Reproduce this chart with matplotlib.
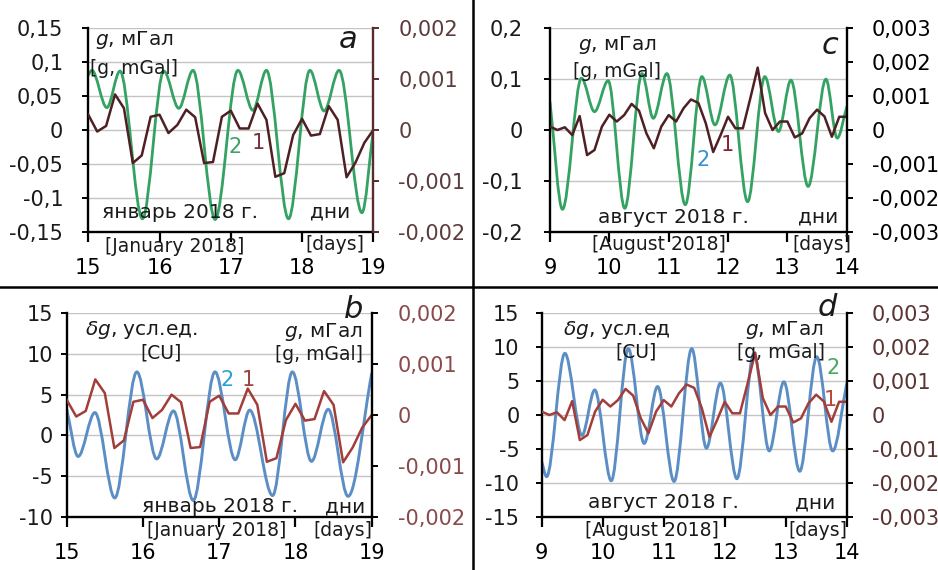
import numpy as np
import matplotlib.pyplot as plt
from matplotlib.path import Path
from matplotlib.patches import PathPatch
from matplotlib.lines import Line2D

W, H = 938, 570

# observed g (series 1), 3-hourly, right axis, mGal
brown_jan = [0.0003, -0.00003, 0.00008, 0.0007, 0.00043, -0.00065, -0.0005, 0.00026,
             0.0003, -0.00006, 0.0001, 0.0004, 0.00025, -0.00065, -0.00063, 0.00026,
             0.00038, 0.00003, 0.00003, 0.00052, 0.0002, -0.00092, -0.00085, -0.0001,
             0.00022, -0.00011, -0.00008, 0.00047, 0.0002, -0.00093, -0.00064, -0.00025, 0.0]
brown_aug = [0.0001, 0.0, 0.00008, -0.00015, 0.00041, -0.00074, -0.00059, 0.0001,
             0.00045, 0.00025, 0.00044, 0.00077, 0.00057, -0.0001, -0.00054, 0.0001,
             0.00044, 0.00025, 0.00064, 0.0009, 0.0008, 0.0002, -0.00065, -0.00015,
             0.00039, 0.00005, 0.00005, 0.00093, 0.00184, 0.0005, 0.0, 0.00025,
             0.00025, -0.00022, -0.0001, 0.00035, 0.0006, 0.0004, -0.0002, 0.00039, 0.00039]

# tide model g (series 2), turning points, left axis, mGal
green_jan_t = [15.0, 15.05, 15.26, 15.445, 15.76, 16.06, 16.27, 16.47, 16.78, 17.1,
               17.31, 17.5, 17.81, 18.11, 18.31, 18.52, 18.84, 19.0]
green_jan_v = [0.081, 0.088, 0.033, 0.087, -0.131, 0.087, 0.032, 0.088, -0.132, 0.088,
               0.029, 0.088, -0.131, 0.088, 0.028, 0.088, -0.122, 0.0]
green_aug_t = [9.0, 9.21, 9.53, 9.75, 9.98, 10.26, 10.55, 10.74, 10.97, 11.28, 11.56,
               11.78, 12.03, 12.33, 12.62, 12.85, 13.06, 13.35, 13.65, 13.84, 14.0]
green_aug_v = [0.055, -0.156, 0.102, 0.036, 0.097, -0.154, 0.111, 0.023, 0.111, -0.147, 0.105,
               0.01, 0.108, -0.141, 0.105, -0.003, 0.098, -0.111, 0.1, -0.016, 0.045]

# delta g (series 2), conventional units
blue_jan_t = [15.0, 15.15, 15.37, 15.63, 15.92, 16.18, 16.40, 16.66, 16.945, 17.21,
              17.40, 17.70, 17.96, 18.21, 18.43, 18.69, 19.0]
blue_jan_v = [3.2, -2.6, 2.8, -7.7, 7.8, -2.9, 3.0, -8.0, 7.8, -3.0,
              3.1, -7.4, 7.8, -3.2, 3.2, -7.5, 7.6]
blue_aug_t = [9.0, 9.08, 9.38, 9.66, 9.87, 10.14, 10.42, 10.68, 10.90, 11.17, 11.46,
              11.70, 11.93, 12.20, 12.48, 12.73, 12.97, 13.23, 13.51, 13.77, 14.0]
blue_aug_v = [-6.9, -9.1, 9.1, -3.0, 3.7, -9.7, 9.8, -4.2, 4.2, -9.8, 9.8,
              -4.9, 4.7, -9.4, 9.1, -5.3, 4.9, -8.3, 8.6, -5.3, 4.6]

GREEN = '#34a262'
BLUE = '#5b8ec4'
MAROON = '#4e2024'
BRICK = '#a23e3a'


def smooth_line(ax, t, v, color, lw):
    # Excel-like smoothed line: monotone cubic drawn as bezier path
    t = np.asarray(t, float)
    v = np.asarray(v, float)
    h = np.diff(t)
    d = np.diff(v) / h
    m = np.empty_like(v)
    m[0], m[-1] = d[0], d[-1]
    for i in range(1, len(v) - 1):
        if d[i - 1] * d[i] <= 0:
            m[i] = 0.0
        else:
            w1 = 2 * h[i] + h[i - 1]
            w2 = h[i] + 2 * h[i - 1]
            m[i] = (w1 + w2) / (w1 / d[i - 1] + w2 / d[i])
    verts = [(t[0], v[0])]
    codes = [Path.MOVETO]
    for i in range(len(h)):
        verts += [(t[i] + h[i] / 3, v[i] + m[i] * h[i] / 3),
                  (t[i + 1] - h[i] / 3, v[i + 1] - m[i + 1] * h[i] / 3),
                  (t[i + 1], v[i + 1])]
        codes += [Path.CURVE4] * 3
    ax.add_patch(PathPatch(Path(verts, codes), fill=False, edgecolor=color, lw=lw,
                           capstyle='round', joinstyle='round'))


def rect(l, t, r, b):
    return [l / W, 1 - b / H, (r - l) / W, (b - t) / H]


def txt(x, y, s, size=14, ha='left', **kw):
    fig.text(x / W, 1 - y / H, s, fontsize=size, ha=ha, va='center', color=kw.pop('color', '#1a1a1a'), **kw)


def panel(box, xlim, lt, ll, rt, rl, lpad, rpad, rspine='black', rlab='black'):
    ax = fig.add_axes(box)
    ax2 = ax.twinx()
    ax.set_xlim(*xlim)
    ax.set_xticks(range(xlim[0], xlim[1] + 1))
    ax.set_ylim(lt[0], lt[-1])
    ax.set_yticks(lt, labels=ll)
    ax2.set_ylim(rt[0], rt[-1])
    ax2.set_yticks(rt, labels=rl)
    ax.yaxis.grid(True, color='#c4c4c4', lw=1.0)
    ax.set_axisbelow(True)
    for s in ['top', 'right']:
        ax.spines[s].set_visible(False)
    for s in ['top', 'left', 'bottom']:
        ax2.spines[s].set_visible(False)
    ax.spines['left'].set_linewidth(1.7)
    ax.spines['bottom'].set_linewidth(1.7)
    ax2.spines['right'].set_linewidth(1.7)
    ax2.spines['right'].set_color(rspine)
    ax.tick_params(axis='x', direction='out', length=7, width=1.6, pad=12, labelsize=15)
    ax.tick_params(axis='y', direction='out', length=4, width=1.4, pad=lpad, labelsize=15,
                   labelcolor='#1a1a1a')
    ax2.tick_params(axis='y', direction='out', length=4, width=1.4, pad=rpad, labelsize=15,
                    labelcolor=rlab, color=rspine)
    return ax, ax2


fig = plt.figure(figsize=(W / 100, H / 100), dpi=100)

g_ticks = [-0.15, -0.1, -0.05, 0, 0.05, 0.1, 0.15]
g_labels = ['-0,15', '-0,1', '-0,05', '0', '0,05', '0,1', '0,15']
g2_ticks = [-0.2, -0.1, 0, 0.1, 0.2]
g2_labels = ['-0,2', '-0,1', '0', '0,1', '0,2']
r2_ticks = [-0.002, -0.001, 0, 0.001, 0.002]
r2_labels = ['-0,002', '-0,001', '0', '0,001', '0,002']
r3_ticks = [-0.003, -0.002, -0.001, 0, 0.001, 0.002, 0.003]
r3_labels = ['-0,003', '-0,002', '-0,001', '0', '0,001', '0,002', '0,003']
dg_jan_ticks = [-10, -5, 0, 5, 10, 15]
dg_aug_ticks = [-15, -10, -5, 0, 5, 10, 15]

# a
ax, ax2 = panel(rect(88.3, 28.3, 373.3, 231.7), (15, 19), g_ticks, g_labels,
                r2_ticks, r2_labels, 14, 14, rspine='#5a2d2d', rlab='#5c3c3c')
smooth_line(ax, green_jan_t, green_jan_v, GREEN, 2.0)
ax2.plot(np.linspace(15, 19, len(brown_jan)), brown_jan, color=MAROON, lw=1.8)

# c
ax, ax2 = panel(rect(550, 28.3, 846.7, 231.7), (9, 14), g2_ticks, g2_labels,
                r3_ticks, r3_labels, 15.5, 14)
smooth_line(ax, green_aug_t, green_aug_v, GREEN, 2.0)
ax2.plot(np.linspace(9, 14, len(brown_aug)), brown_aug, color=MAROON, lw=1.8)

# b
ax, ax2 = panel(rect(66.7, 313.3, 371.7, 516.7), (15, 19), dg_jan_ticks,
                [str(v) for v in dg_jan_ticks], r2_ticks, r2_labels, 6, 15,
                rlab='#8a4a4a')
smooth_line(ax, blue_jan_t, blue_jan_v, BLUE, 2.1)
ax2.plot(np.linspace(15, 19, len(brown_jan)), brown_jan, color=BRICK, lw=1.8)

# d
ax, ax2 = panel(rect(541.7, 313.3, 846.7, 516.7), (9, 14), dg_aug_ticks,
                [str(v) for v in dg_aug_ticks], r3_ticks, r3_labels, 12, 14,
                rlab='#5a3333')
smooth_line(ax, blue_aug_t, blue_aug_v, BLUE, 2.1)
ax2.plot(np.linspace(9, 14, len(brown_aug)), brown_aug, color=BRICK, lw=1.8)

# panel texts
txt(95, 40, '$g$, мГал', 14.5)
txt(90, 68, '[g, mGal]', 13.5)
txt(348, 40, 'a', 22, ha='center', style='italic')
txt(102, 212, 'январь 2018 г.', 14.5)
txt(310, 212, 'дни', 14.5)
txt(105, 247, '[January 2018]', 13.5)
txt(305, 245, '[days]', 13.5)
txt(235, 147, '2', 15, ha='center', color='#3ca26a')
txt(258, 143, '1', 15, ha='center', color='#7a3040')

txt(578, 45, '$g$, мГал', 14.5)
txt(573, 72, '[g, mGal]', 13.5)
txt(830, 45, 'c', 22, ha='center', style='italic')
txt(598, 217, 'август 2018 г.', 14.5)
txt(798, 217, 'дни', 14.5)
txt(592, 245, '[August 2018]', 13.5)
txt(792, 245, '[days]', 13.5)
txt(703, 160, '2', 15, ha='center', color='#3a90d0')
txt(727, 145, '1', 15, ha='center', color='#8b2035')

txt(85, 330, r'$\delta g$, усл.ед.', 14.5)
txt(140, 353, '[CU]', 13.5)
txt(362, 332, '$g$, мГал', 14.5, ha='right')
txt(363, 355, '[g, mGal]', 13.5, ha='right')
txt(354, 309, 'b', 22, ha='center', style='italic')
txt(227, 380, '2', 15, ha='center', color='#2aa0d8')
txt(248, 380, '1', 15, ha='center', color='#a0403a')
txt(142, 507, 'январь 2018 г.', 14.5)
txt(325, 507, 'дни', 14.5)
txt(147, 530, '[January 2018]', 13.5)
txt(313, 530, '[days]', 13.5)

txt(563, 330, r'$\delta g$, усл.ед', 14.5)
txt(615, 352, '[CU]', 13.5)
txt(823, 330, '$g$, мГал', 14.5, ha='right')
txt(825, 352, '[g, mGal]', 13.5, ha='right')
txt(827, 308, 'd', 22, ha='center', style='italic')
txt(833, 368, '2', 15, ha='center', color='#4aa860')
txt(830, 400, '1', 15, ha='center', color='#b84a3a')
txt(588, 503, 'август 2018 г.', 14.5)
txt(795, 503, 'дни', 14.5)
txt(585, 530, '[August 2018]', 13.5)
txt(788, 530, '[days]', 13.5)

# frame dividers
fig.add_artist(Line2D([473 / W, 473 / W], [0, 1], color='black', lw=1.8))
fig.add_artist(Line2D([0, 1], [1 - 287 / H, 1 - 287 / H], color='black', lw=1.8))

fig.savefig('out.png', dpi=100)
